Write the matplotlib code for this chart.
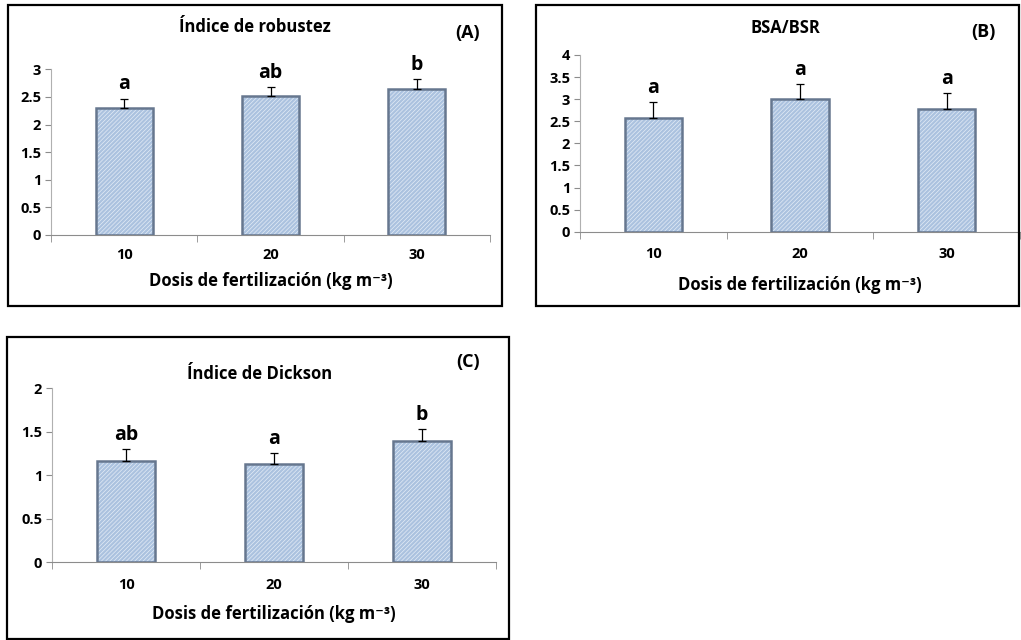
import matplotlib
matplotlib.use("Agg")
import matplotlib.pyplot as plt
from matplotlib.patches import Rectangle

plt.rcParams['font.family'] = ['Open Sans', 'DejaVu Sans']
plt.rcParams['font.weight'] = 'bold'
plt.rcParams['hatch.linewidth'] = 0.5

doses = ["10", "20", "30"]

robustez = [2.30, 2.52, 2.64]
robustez_err = [0.17, 0.16, 0.18]
robustez_letters = ["a", "ab", "b"]

bsa_bsr = [2.58, 3.00, 2.78]
bsa_bsr_err = [0.36, 0.34, 0.35]
bsa_bsr_letters = ["a", "a", "a"]

dickson = [1.16, 1.13, 1.40]
dickson_err = [0.14, 0.13, 0.13]
dickson_letters = ["ab", "a", "b"]

W, H = 1021, 640
fig = plt.figure(figsize=(W / 100, H / 100), dpi=100)


def fx(x):
    return x / W


def fy(y):
    return 1 - y / H


def panel(box, ax_px, ymax, values, errs, letters, title, title_xy,
          tag, tag_xy, tick_y, xlabel_y):
    # outer frame
    x0, y0, x1, y1 = box
    fig.patches.append(Rectangle((fx(x0), fy(y1)), fx(x1 - x0), (y1 - y0) / H,
                                 transform=fig.transFigure, fill=False,
                                 edgecolor='black', linewidth=1.6))
    l, t, r, b = ax_px
    ax = fig.add_axes([fx(l), fy(b), fx(r - l), (b - t) / H])
    pos = list(range(len(values)))
    ax.bar(pos, values, width=0.39, color='#abc2df', hatch='////////',
           edgecolor='#e4ecf6', linewidth=0, zorder=2)
    ax.bar(pos, values, width=0.39, fill=False, edgecolor='#66778f',
           linewidth=1.8, zorder=3)
    ax.errorbar(pos, values, yerr=[[0] * len(errs), errs], fmt='none',
                ecolor='black', elinewidth=0.9, capsize=3, capthick=0.9,
                zorder=4)
    for p, v, e, s in zip(pos, values, errs, letters):
        ax.annotate(s, (p, v + e), xytext=(0, 3), textcoords='offset points',
                    ha='center', va='bottom', fontsize=14, fontweight='bold')
    ax.set_xlim(-0.5, len(values) - 0.5)
    ax.set_ylim(0, ymax)
    ticks = [i * 0.5 for i in range(int(ymax * 2) + 1)]
    ax.set_yticks(ticks)
    ax.set_yticklabels([f"{t:g}" for t in ticks], fontsize=10.5, fontweight='bold')
    ax.set_xticks(pos)
    ax.set_xticklabels([])
    ax.set_xticks([i - 0.5 for i in range(len(values) + 1)], minor=True)
    ax.tick_params(axis='x', which='major', length=0)
    ax.tick_params(axis='x', which='minor', length=5, color='#8c8c8c')
    ax.tick_params(axis='y', length=4, color='#8c8c8c', pad=3)
    for s in ['top', 'right']:
        ax.spines[s].set_visible(False)
    ax.spines['left'].set_color('#b0b0b0')
    ax.spines['bottom'].set_color('#8c8c8c')
    ax.set_facecolor('none')
    # category labels, title, tag and axis title
    xs = [l + (r - l) * (i + 0.5) / len(values) for i in range(len(values))]
    for xc, lab in zip(xs, doses):
        fig.text(fx(xc), fy(tick_y), lab, ha='center', va='center',
                 fontsize=10.5, fontweight='bold')
    fig.text(fx(title_xy[0]), fy(title_xy[1]), title, ha='center', va='center',
             fontsize=12, fontweight='bold')
    fig.text(fx(tag_xy[0]), fy(tag_xy[1]), tag, ha='center', va='center',
             fontsize=13, fontweight='bold')
    fig.text(fx((l + r) / 2), fy(xlabel_y), "Dosis de fertilización (kg m\u207b\u00b3)",
             ha='center', va='center', fontsize=12, fontweight='bold')
    return ax


panel((8, 5, 502, 306), (51, 69.3, 490, 235), 3,
      robustez, robustez_err, robustez_letters, "Índice de robustez", (255, 27),
      "(A)", (468, 33), 255, 281)

panel((536, 5, 1019, 306), (580, 55, 1020, 231.7), 4,
      bsa_bsr, bsa_bsr_err, bsa_bsr_letters, "BSA/BSR", (785, 28),
      "(B)", (983, 32), 254, 285)

panel((7, 337, 509, 639), (52, 388.3, 496, 562.3), 2,
      dickson, dickson_err, dickson_letters, "Índice de Dickson", (260, 374),
      "(C)", (468, 362), 585, 614)

fig.savefig("out.png", dpi=100)
